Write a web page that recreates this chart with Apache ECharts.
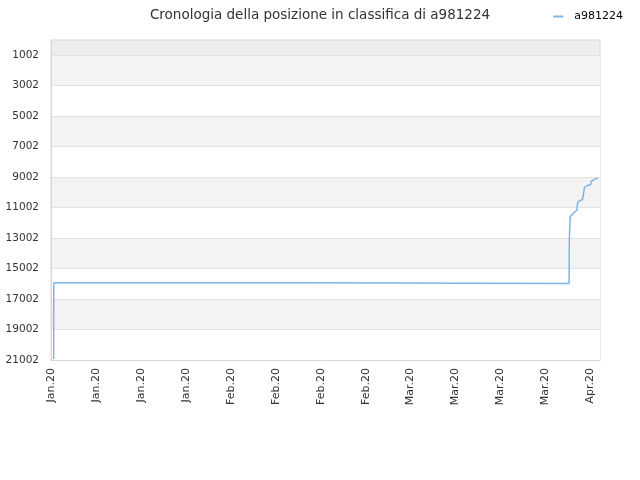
<!DOCTYPE html>
<html>
<head>
<meta charset="utf-8">
<script src="https://cdn.jsdelivr.net/npm/echarts@6/dist/echarts.min.js"></script>
<style>html,body{margin:0;padding:0;background:#fff}#c{width:640px;height:480px}</style>
</head>
<body>
<div id="c"></div>
<script>
const titleText = 'Cronologia della posizione in classifica di a981224';
const seriesName = 'a981224';
// days since 2020-01-01
const days = [0.48, 0.48, 0.5, 46.4, 46.45, 92.2, 92.22, 92.3, 92.4, 92.7, 93.0, 93.3, 93.6, 93.7, 94.0, 94.6, 94.9, 94.95, 95.2, 95.6, 96.0, 96.2, 96.7, 97.3];
const ranks = [20940, 18310, 15930, 15930, 15990, 15990, 13460, 12480, 11600, 11500, 11360, 11230, 11165, 10710, 10575, 10480, 10480, 9660, 9590, 9530, 9520, 9264, 9170, 9067];
const yTickValues = [1002, 3002, 5002, 7002, 9002, 11002, 13002, 15002, 17002, 19002, 21002];
const xTickValues = [0, 8, 16, 24, 32, 40, 48, 56, 64, 72, 80, 88, 96];
const xTickLabels = ['Jan.20','Jan.20','Jan.20','Jan.20','Feb.20','Feb.20','Feb.20','Feb.20','Mar.20','Mar.20','Mar.20','Mar.20','Apr.20'];

const chart = echarts.init(document.getElementById('c'));
chart.setOption({
  animation: false,
  title: {
    text: titleText, left: 'center', top: 3,
    textStyle: {fontFamily: 'DejaVu Sans', fontSize: 13.5, fontWeight: 'normal', color: '#333'}
  },
  legend: {
    data: [seriesName], right: 12, top: 6, icon: 'rect', itemWidth: 10, itemHeight: 2,
    textStyle: {fontFamily: 'DejaVu Sans', fontSize: 11, color: '#000', padding: [0, 0, 0, 6]}
  },
  grid: {left: 51, right: 40, top: 40, bottom: 120, outerBoundsMode: 'none', containLabel: false,
         show: true, borderColor: '#d8d8d8', borderWidth: 1, backgroundColor: '#eeeeee'},
  xAxis: {
    type: 'value', min: 0, max: 97.7,
    axisLine: {show: true, lineStyle: {color: '#d8d8d8'}},
    axisTick: {show: false, customValues: xTickValues},
    splitLine: {show: false},
    axisLabel: {
      customValues: xTickValues, rotate: 90, fontFamily: 'DejaVu Sans', fontSize: 11, color: '#333', margin: 8,
      formatter: v => { const i = xTickValues.indexOf(v); return i >= 0 ? xTickLabels[i] : ''; }
    }
  },
  yAxis: {
    type: 'value', inverse: true, min: 18, max: 21002,
    axisLine: {show: true, lineStyle: {color: '#d8d8d8'}},
    axisTick: {show: false, customValues: yTickValues},
    axisLabel: {customValues: yTickValues, fontFamily: 'DejaVu Sans', fontSize: 10.5, color: '#333', margin: 12,
      formatter: v => String(v)},
    splitLine: {show: true, lineStyle: {color: '#e2e2e2'}},
    splitArea: {show: true, areaStyle: {color: ['#f3f3f3', '#ffffff']}}
  },
  series: [{
    name: seriesName, type: 'line', showSymbol: false, symbol: 'none',
    lineStyle: {color: '#7cb5ec', width: 1.5}, itemStyle: {color: '#7cb5ec'},
    data: days.map((d, i) => [d, ranks[i]])
  }]
});
</script>
</body>
</html>
